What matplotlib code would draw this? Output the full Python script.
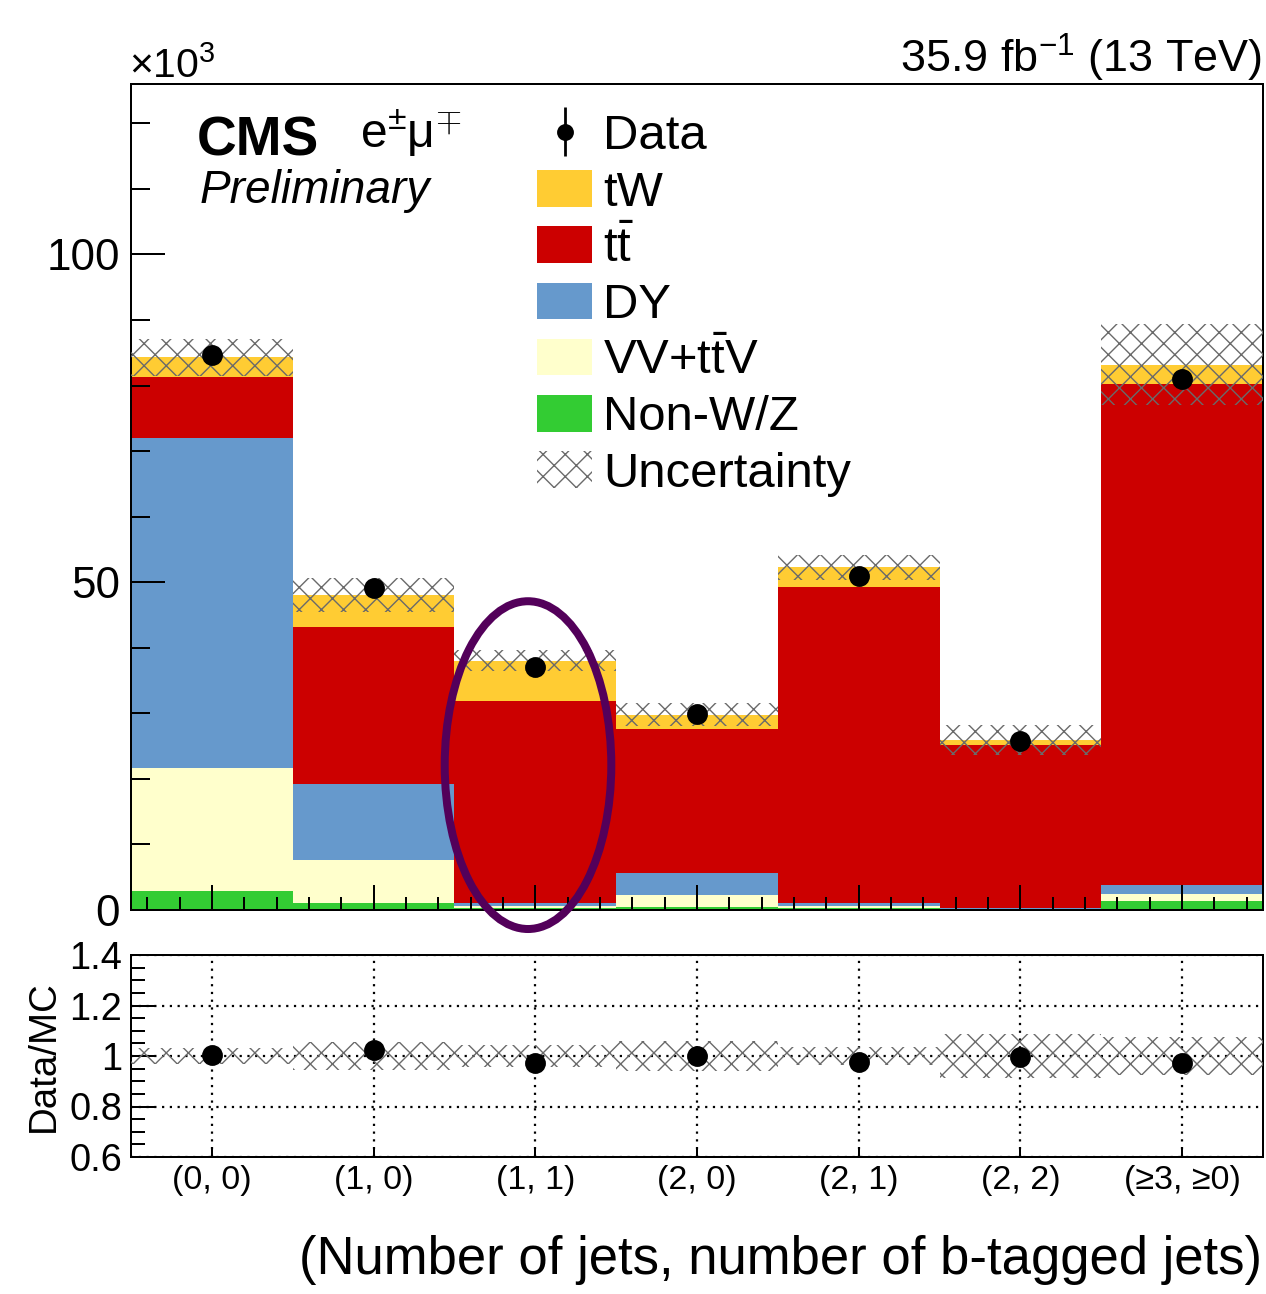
import numpy as np
import matplotlib
matplotlib.use('Agg')
import matplotlib.pyplot as plt
from matplotlib.patches import Patch, Ellipse
from matplotlib.ticker import FixedLocator, MultipleLocator

# ---------------- data (thousands of events) ----------------
categories = ['(0, 0)', '(1, 0)', '(1, 1)', '(2, 0)', '(2, 1)', '(2, 2)', '(≥3, ≥0)']
nonwz = [2.9, 1.05, 0.3, 0.5, 0.3, 0.1, 1.3]
vv    = [18.7, 6.55, 0.3, 1.8, 0.3, 0.1, 1.1]
dy    = [50.4, 11.6, 0.45, 3.4, 0.4, 0.1, 1.4]
ttbar = [9.3, 23.95, 30.85, 21.9, 48.3, 24.9, 76.5]
tw    = [3.0, 4.9, 6.1, 2.2, 3.0, 0.7, 2.9]
data  = [84.6, 49.1, 37.0, 29.85, 51.0, 25.75, 81.0]
unc   = [2.8, 2.6, 1.6, 1.8, 1.9, 2.3, 6.2]
ratio_ticks = [0.6, 0.8, 1.0, 1.2, 1.4]
ratio_ticklabels = ['0.6', '0.8', '1', '1.2', '1.4']
main_ticks = [0, 50, 100]

# ---------------- style ----------------
DPI = 133
W, H = 1266, 1294
def pt(px):
    return px * 72.0 / DPI

SANS = 'Liberation Sans'
plt.rcParams['font.family'] = [SANS, 'DejaVu Sans']
plt.rcParams['mathtext.fontset'] = 'custom'
plt.rcParams['mathtext.rm'] = SANS
plt.rcParams['mathtext.it'] = SANS + ':italic'
plt.rcParams['mathtext.bf'] = SANS + ':bold'
plt.rcParams['hatch.linewidth'] = 0.75
plt.rcParams['axes.linewidth'] = pt(2)

C_TW = '#FFCC33'
C_TT = '#CC0000'
C_DY = '#6699CC'
C_VV = '#FFFFCC'
C_NW = '#33CC33'
C_HATCH = '#6a6a6a'
HATCH = 'xx'

fig = plt.figure(figsize=(W / DPI, H / DPI), dpi=DPI)
ax = fig.add_axes([131 / W, 1 - 910 / H, 1132 / W, 826 / H])
rax = fig.add_axes([131 / W, 1 - 1157 / H, 1132 / W, 202 / H])

x = np.arange(len(categories))
stack = [(nonwz, C_NW), (vv, C_VV), (dy, C_DY), (ttbar, C_TT), (tw, C_TW)]
bottom = np.zeros(len(x))
for vals, col in stack:
    ax.bar(x, vals, width=1.0, bottom=bottom, color=col, linewidth=0, zorder=1)
    bottom = bottom + np.array(vals)
total = bottom
unc_a = np.array(unc)
data_a = np.array(data)

ax.bar(x, 2 * unc_a, bottom=total - unc_a, width=1.0, facecolor='none',
       edgecolor=C_HATCH, hatch=HATCH, linewidth=0, zorder=3)
stat = np.sqrt(data_a * 1000) / 1000
ax.errorbar(x, data_a, yerr=stat, fmt='o', color='black', markersize=pt(19),
            elinewidth=1.5, capsize=0, zorder=6)

ax.set_xlim(-0.5, len(x) - 0.5)
ax.set_ylim(0, 126)
ax.yaxis.set_major_locator(FixedLocator(main_ticks))
ax.yaxis.set_minor_locator(MultipleLocator(10))
ax.xaxis.set_major_locator(FixedLocator(x))
ax.xaxis.set_minor_locator(FixedLocator(np.concatenate([x + d for d in (-0.4, -0.2, 0.2, 0.4)])))
ax.tick_params(axis='both', which='both', direction='in', top=False, right=False)
ax.tick_params(axis='x', which='major', length=pt(25), width=pt(2), labelbottom=False)
ax.tick_params(axis='x', which='minor', length=pt(13), width=pt(2))
ax.tick_params(axis='y', which='major', length=pt(34), width=pt(2), labelsize=pt(44), pad=pt(11))
ax.tick_params(axis='y', which='minor', length=pt(19), width=pt(2))

# ratio panel
rax.bar(x, 2 * unc_a / total, bottom=1 - unc_a / total, width=1.0, facecolor='none',
        edgecolor=C_HATCH, hatch=HATCH, linewidth=0, zorder=3)
rax.errorbar(x, data_a / total, yerr=stat / total, fmt='o', color='black',
             markersize=pt(19), elinewidth=1.5, capsize=0, zorder=6)
rax.set_xlim(-0.5, len(x) - 0.5)
rax.set_ylim(0.6, 1.4)
rax.yaxis.set_major_locator(FixedLocator(ratio_ticks))
rax.set_yticklabels(ratio_ticklabels)
rax.yaxis.set_minor_locator(MultipleLocator(0.05))
rax.xaxis.set_major_locator(FixedLocator(x))
rax.set_xticklabels(categories)
rax.grid(True, which='major', color='black', linestyle=(0, (1, 2.5)), linewidth=1.2, zorder=0)
rax.set_axisbelow(True)
rax.tick_params(axis='both', which='both', direction='in', top=False, right=False)
rax.tick_params(axis='y', which='major', length=pt(24), width=pt(2), labelsize=pt(38), pad=pt(9))
rax.tick_params(axis='y', which='minor', length=pt(14), width=pt(2))
rax.tick_params(axis='x', which='major', length=pt(10), width=pt(2), labelsize=pt(34), pad=pt(8))

# texts
fig.text(1262 / W, 1 - 73 / H, r'35.9 fb$^{-1}$ (13 TeV)', ha='right', va='baseline', fontsize=pt(45))
fig.text(129 / W, 1 - 78 / H, r'×10$^{3}$', ha='left', va='baseline', fontsize=pt(41))
fig.text(197 / W, 1 - 155 / H, 'CMS', ha='left', va='baseline', fontsize=pt(55), fontweight='bold')
fig.text(360 / W, 1 - 148 / H, r'e$^{\pm}$μ$^{\mp}$', ha='left', va='baseline', fontsize=pt(48))
fig.text(200 / W, 1 - 203 / H, 'Preliminary', ha='left', va='baseline', fontsize=pt(46), fontstyle='italic')
fig.text(1262 / W, 1 - 1274 / H, '(Number of jets, number of b-tagged jets)', ha='right',
         va='baseline', fontsize=pt(52.6))
fig.text(44 / W, 1 - 1056 / H, 'Data/MC', rotation=90, ha='center', va='center', fontsize=pt(38.5))

# legend
data_handle = ax.errorbar([], [], yerr=[], fmt='o', color='black', markersize=pt(15), elinewidth=1.5)
handles = [data_handle,
           Patch(facecolor=C_TW, linewidth=0),
           Patch(facecolor=C_TT, linewidth=0),
           Patch(facecolor=C_DY, linewidth=0),
           Patch(facecolor=C_VV, linewidth=0),
           Patch(facecolor=C_NW, linewidth=0),
           Patch(facecolor='none', edgecolor=C_HATCH, hatch=HATCH, linewidth=0)]
labels = ['Data', 'tW', r't$\mathrm{\bar{t}}$', 'DY', r'VV+t$\mathrm{\bar{t}}$V', 'Non-W/Z', 'Uncertainty']
fs = 49
fig.legend(handles, labels, loc='upper left', bbox_to_anchor=(537 / W, 1 - 114 / H),
           bbox_transform=fig.transFigure, frameon=False, fontsize=pt(fs),
           handlelength=55 / fs, handleheight=38 / fs, handletextpad=11 / fs,
           labelspacing=0.22, borderpad=0, borderaxespad=0)

# annotation ellipse around (1, 1) bin
ell = Ellipse((1.955, 22.1), width=1.03, height=50.0, fill=False, edgecolor='#53005A',
              linewidth=pt(8), clip_on=False, zorder=20)
ax.add_patch(ell)

fig.savefig('out.png', dpi=DPI)
